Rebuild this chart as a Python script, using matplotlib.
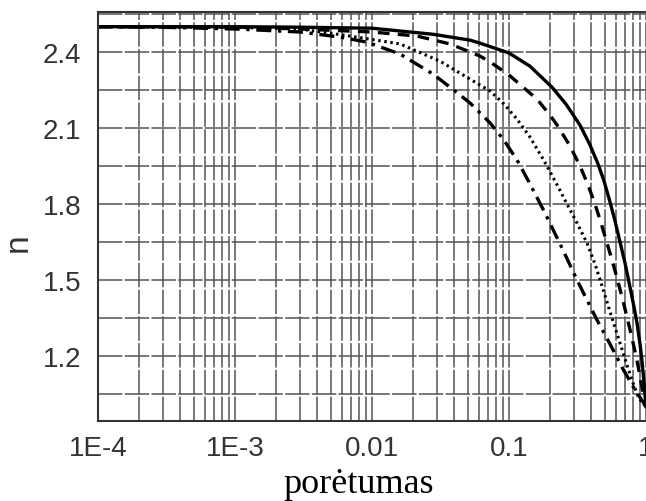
import matplotlib
matplotlib.use("Agg")
import matplotlib.pyplot as plt
from matplotlib.ticker import FixedLocator, NullFormatter, LogLocator

# porėtumas ir lūžio rodiklis n (nuskaityta iš paveikslo)
p_solid = [1e-4, 1e-3, 0.00298, 0.01, 0.0279, 0.0519, 0.0614, 0.1, 0.1423, 0.206, 0.2607, 0.3298,
           0.3902, 0.4464, 0.4937, 0.5461, 0.594, 0.6459, 0.7026, 0.7642, 0.8175, 0.8597, 0.904,
           0.935, 0.967, 1.0]
n_solid = [2.50, 2.50, 2.498, 2.494, 2.47, 2.447, 2.435, 2.396, 2.344, 2.261, 2.194, 2.111,
           2.033, 1.958, 1.891, 1.808, 1.733, 1.65, 1.567, 1.472, 1.393, 1.33, 1.247,
           1.18, 1.097, 1.0]

p_dash = [1e-4, 1e-3, 0.00298, 0.01, 0.0213, 0.0371, 0.0614, 0.0727, 0.1, 0.160, 0.1992, 0.224,
          0.2788, 0.3298, 0.3773, 0.4243, 0.4694, 0.519, 0.5646, 0.614, 0.668, 0.7266, 0.790,
          0.845, 0.889, 0.935, 0.967, 1.0]
n_dash = [2.50, 2.499, 2.491, 2.479, 2.463, 2.432, 2.384, 2.361, 2.309, 2.214, 2.151, 2.112,
          2.029, 1.95, 1.875, 1.80, 1.725, 1.646, 1.579, 1.508, 1.433, 1.354, 1.271,
          1.20, 1.141, 1.077, 1.038, 1.0]

p_dot = [1e-4, 1e-3, 0.00298, 0.00691, 0.016, 0.03135, 0.0519, 0.0727, 0.0904, 0.1144, 0.1423,
         0.177, 0.2167, 0.265, 0.3135, 0.371, 0.4243, 0.4855, 0.555, 0.6459, 0.7266, 0.8037,
         0.874, 0.935, 1.0]
n_dot = [2.50, 2.497, 2.491, 2.463, 2.432, 2.364, 2.293, 2.246, 2.199, 2.135, 2.064,
         1.978, 1.891, 1.80, 1.725, 1.646, 1.563, 1.464, 1.362, 1.251, 1.164, 1.093,
         1.042, 1.016, 1.0]

p_dd = [1e-4, 0.000335, 1e-3, 0.00298, 0.00584, 0.0092, 0.016, 0.0279, 0.0403, 0.0519, 0.0727,
        0.0904, 0.1144, 0.1423, 0.1832, 0.2478, 0.3135, 0.3902, 0.4387, 0.5461, 0.6795, 0.831, 1.0]
n_dd = [2.50, 2.497, 2.491, 2.479, 2.459, 2.439, 2.392, 2.313, 2.246, 2.199, 2.12,
        2.057, 1.974, 1.879, 1.764, 1.618, 1.50, 1.397, 1.342, 1.247, 1.148, 1.066, 1.0]

y_major = [1.2, 1.5, 1.8, 2.1, 2.4]
y_minor = [1.05, 1.35, 1.65, 1.95, 2.25, 2.55]
x_major = [1e-4, 1e-3, 1e-2, 1e-1, 1]
x_labels = ["1E-4", "1E-3", "0.01", "0.1", "1"]

fig = plt.figure(figsize=(6.46, 5.02), dpi=100)
ax = fig.add_axes([98 / 646, 1 - 422 / 502, 548 / 646, 409 / 502])

ax.set_xscale("log")
ax.set_xlim(1e-4, 1)
ax.set_ylim(0.943, 2.558)

# tinklelis
grid_kw = dict(color="0.33", lw=1.1, ls=(0, (16, 1.5)))
ax.xaxis.set_major_locator(FixedLocator(x_major))
ax.xaxis.set_minor_locator(LogLocator(base=10, subs=range(2, 10)))
ax.xaxis.set_minor_formatter(NullFormatter())
ax.set_xticklabels(x_labels)
ax.yaxis.set_major_locator(FixedLocator(y_major))
ax.yaxis.set_minor_locator(FixedLocator(y_minor))
ax.grid(True, which="both", axis="both", **grid_kw)
ax.set_axisbelow(True)

# kreivės
ax.plot(p_solid, n_solid, color="black", lw=2.4, ls="-")
ax.plot(p_dash, n_dash, color="black", lw=2.4, ls=(0, (3.5, 2.5)))
ax.plot(p_dot, n_dot, color="black", lw=2.2, ls=(0, (0.8, 1.2)))
ax.plot(p_dd, n_dd, color="black", lw=2.4, ls=(0, (4.5, 2, 1, 2)))

for s in ax.spines.values():
    s.set_color("0.2")
    s.set_linewidth(1.5)
ax.spines["right"].set_visible(False)

ax.tick_params(which="both", direction="in", length=0, colors="0.2")
ax.tick_params(axis="y", pad=12)
ax.tick_params(axis="x", pad=10)
for lab in ax.get_xticklabels() + ax.get_yticklabels():
    lab.set_fontfamily(["Liberation Sans", "DejaVu Sans"])
    lab.set_fontsize(20)
    lab.set_color("#333333")

ax.set_xlabel("porėtumas", fontfamily=["Liberation Serif", "DejaVu Serif"], fontsize=26)
ax.xaxis.set_label_coords(0.476, -0.112)
ax.set_ylabel("n", fontfamily=["Liberation Sans", "DejaVu Sans"], fontsize=24, color="#333333")
ax.yaxis.set_label_coords(-0.118, 0.438)

fig.savefig("out.png", dpi=100)
